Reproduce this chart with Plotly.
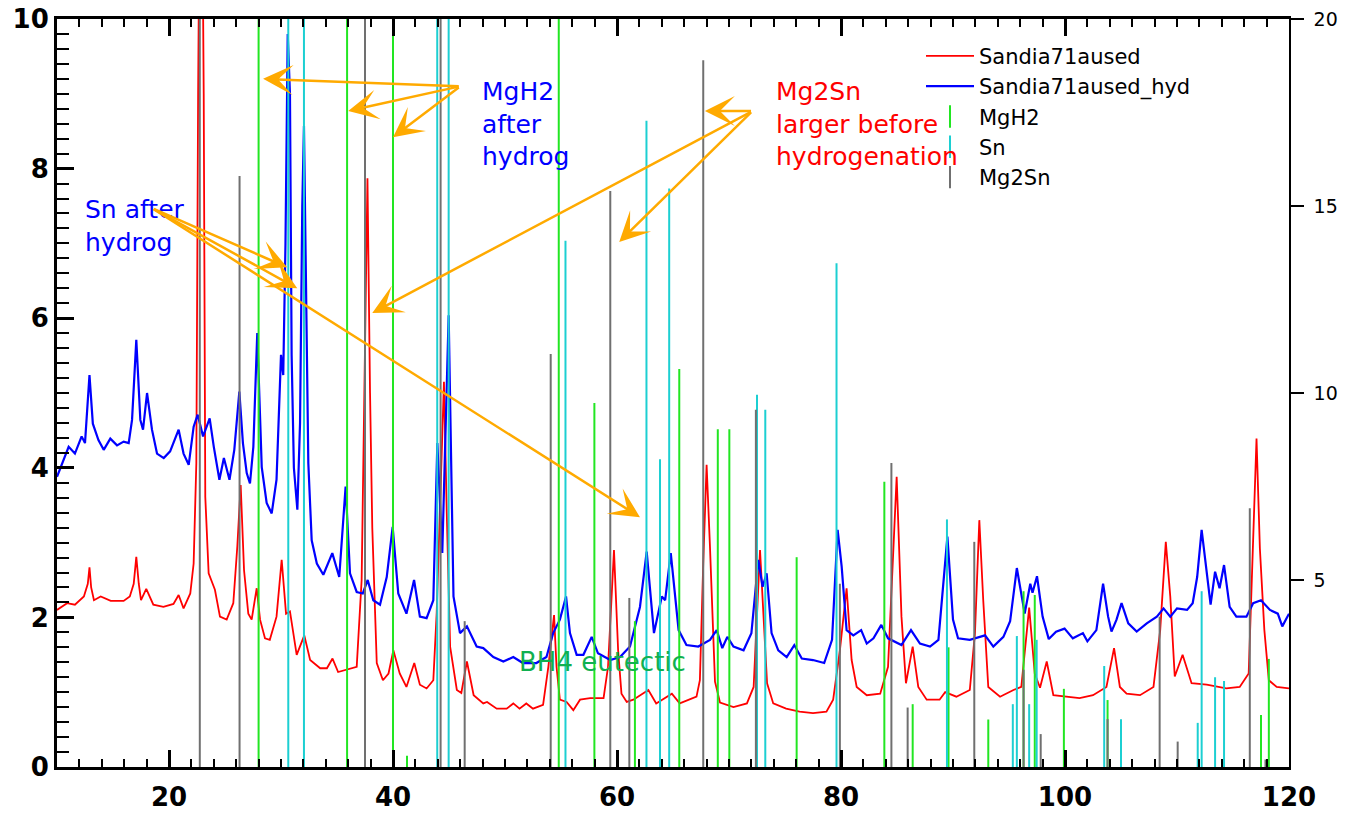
import plotly.graph_objects as go

# ---------------- data ----------------
# Sandia71aused (red) – 2theta and intensity (left axis)
red_x = [10.0, 10.9, 11.6, 12.4, 12.75, 12.9, 13.05, 13.3, 13.9, 14.8, 15.95, 16.5, 16.85, 17.08, 17.3,
         17.5, 17.97, 18.6, 19.5, 20.4, 20.86, 21.3, 21.9, 22.2, 22.44, 22.6, 22.85, 23.1, 23.24, 23.54,
         24.0, 24.1, 24.55, 25.15, 25.74, 26.1, 26.4, 26.7, 27.08, 27.38, 27.83, 28.13, 28.57, 29.0, 29.6,
         30.06, 30.45, 30.8, 31.4, 32.08, 32.6, 33.5, 34.1, 34.6, 35.1, 35.87, 36.76, 37.2, 37.45, 37.72,
         37.95, 38.15, 38.55, 39.1, 39.6, 40.03, 40.6, 41.2, 41.9, 42.4, 43.0, 43.6, 43.9, 44.2, 44.55,
         44.8, 45.1, 45.7, 46.1, 46.6, 47.2, 48.06, 48.4, 49.26, 50.15, 50.74, 51.3, 51.9, 52.5, 53.4,
         53.87, 54.38, 54.6, 54.9, 55.5, 56.1, 56.7, 57.6, 58.8, 59.2, 59.73, 60.1, 60.4, 60.87, 61.46,
         62.8, 63.5, 64.9, 65.6, 67.1, 67.4, 67.7, 68.0, 68.3, 68.75, 69.2, 70.4, 71.6, 72.2, 72.77,
         73.4, 73.95, 75.1, 76.3, 77.5, 78.7, 79.3, 79.9, 80.5, 80.95, 81.4, 82.3, 83.5, 84.2, 84.97,
         85.4, 85.8, 86.4, 86.9, 87.65, 88.8, 89.3, 90.3, 91.5, 91.96, 92.35, 92.7, 93.15, 94.2, 95.4,
         96.1, 96.8, 97.3, 97.77, 98.37, 98.96, 100.15, 101.3, 102.5, 103.7, 104.38, 104.9, 105.5, 106.7,
         107.9, 108.5, 109.0, 109.4, 109.8, 110.5, 111.3, 112.65, 114.4, 115.6, 116.4, 116.75, 117.1,
         117.4, 117.8, 118.2, 118.9, 120.0]
red_y = [2.10, 2.19, 2.17, 2.28, 2.45, 2.67, 2.40, 2.23, 2.28, 2.22, 2.22, 2.28, 2.45, 2.81, 2.45,
         2.23, 2.38, 2.17, 2.14, 2.18, 2.30, 2.12, 2.32, 2.72, 4.06, 9.0, 14.0, 9.0, 3.61, 2.59,
         2.41, 2.37, 2.01, 1.97, 2.19, 2.95, 3.77, 2.63, 2.05, 1.97, 2.39, 1.97, 1.72, 1.70, 2.01,
         2.77, 2.05, 2.08, 1.50, 1.76, 1.43, 1.32, 1.32, 1.45, 1.27, 1.30, 1.34, 2.5, 4.9, 7.87,
         5.0, 3.2, 1.39, 1.16, 1.25, 1.56, 1.25, 1.07, 1.39, 1.10, 1.05, 1.16, 2.06, 3.4, 5.15,
         3.4, 1.61, 1.03, 0.99, 1.41, 0.96, 0.85, 0.87, 0.78, 0.78, 0.85, 0.78, 0.85, 0.78, 0.83,
         1.34, 2.03, 1.34, 0.90, 0.87, 0.76, 0.90, 0.92, 0.92, 1.34, 2.90, 1.56, 0.98, 0.87, 0.90,
         1.03, 0.85, 0.98, 0.85, 0.94, 1.16, 2.72, 4.04, 2.95, 1.14, 0.86, 0.80, 0.85, 1.07, 2.90,
         1.12, 0.85, 0.78, 0.74, 0.72, 0.74, 0.90, 1.56, 2.39, 1.43, 1.07, 0.96, 0.98, 1.34, 3.88,
         2.01, 1.12, 1.61, 1.07, 0.90, 0.90, 1.00, 0.94, 1.03, 1.79, 3.30, 2.23, 1.07, 0.94, 1.03,
         1.07, 2.13, 1.25, 1.06, 1.41, 0.96, 0.94, 0.92, 0.96, 1.07, 1.59, 1.07, 0.98, 0.96,
         1.07, 1.83, 3.01, 2.28, 1.21, 1.50, 1.12, 1.10, 1.05, 1.07, 1.25, 2.72, 4.39,
         2.92, 1.83, 1.16, 1.07, 1.05]

# Sandia71aused_hyd (blue)
blue_x = [10.0, 10.45, 11.04, 11.6, 12.2, 12.5, 12.9, 13.2, 13.7, 14.17, 14.76, 15.36, 15.95, 16.4, 16.7,
          17.08, 17.44, 17.68, 18.04, 18.48, 18.93, 19.53, 20.1, 20.86, 21.3, 21.76, 22.2, 22.56, 23.04,
          23.63, 24.0, 24.5, 24.9, 25.4, 25.83, 26.28, 26.6, 26.94, 27.23, 27.53, 27.88, 28.28, 28.72,
          29.17, 29.6, 30.0, 30.2, 30.4, 30.6, 30.8, 30.95, 31.15, 31.46, 31.7, 31.9, 32.05, 32.2, 32.44,
          32.74, 33.2, 33.78, 34.58, 35.2, 35.47, 35.77, 36.16, 36.76, 37.3, 37.74, 38.24, 38.84, 39.44,
          39.97, 40.47, 41.2, 41.88, 42.4, 43.0, 43.6, 43.96, 44.4, 44.97, 45.4, 45.98, 46.6, 47.47,
          48.06, 48.96, 49.85, 50.74, 51.6, 52.8, 53.7, 54.3, 54.9, 55.45, 55.8, 56.4, 57.0, 57.74, 58.3,
          59.4, 60.27, 61.16, 62.05, 62.65, 63.3, 64.0, 64.3, 64.8, 65.5, 66.2, 67.26, 68.3, 68.9, 69.4,
          69.85, 70.4, 71.3, 72.0, 72.62, 73.0, 73.36, 73.8, 74.4, 75.15, 75.83, 76.5, 77.5, 78.5, 79.2,
          79.7, 80.06, 80.5, 81.1, 81.8, 82.3, 82.9, 83.6, 84.2, 85.4, 86.25, 87.05, 87.95, 88.7, 89.5,
          90.0, 90.45, 91.5, 92.86, 93.6, 94.5, 95.1, 95.7, 96.4, 96.9, 97.1, 97.5, 98.0, 98.55, 99.2,
          99.96, 100.7, 101.6, 102.0, 102.8, 103.4, 103.85, 104.15, 104.6, 105.05, 105.65, 106.4, 107.3,
          108.2, 108.8, 109.4, 110.0, 110.9, 111.4, 111.8, 112.2, 112.6, 113.0, 113.4, 113.8, 114.2,
          114.7, 115.3, 116.2, 116.8, 117.5, 118.3, 119.0, 119.4, 120.0]
blue_y = [3.88, 4.06, 4.28, 4.19, 4.42, 4.33, 5.24, 4.59, 4.37, 4.24, 4.39, 4.30, 4.35, 4.33, 4.64,
          5.71, 4.64, 4.51, 5.00, 4.51, 4.19, 4.13, 4.22, 4.51, 4.19, 4.04, 4.55, 4.71, 4.42,
          4.66, 4.28, 3.84, 4.13, 3.84, 4.24, 5.02, 4.33, 3.93, 3.79, 4.28, 5.80, 4.01, 3.53,
          3.39, 3.84, 5.51, 5.24, 7.0, 9.8, 9.0, 5.5, 4.0, 3.44, 4.6, 7.5, 8.57, 7.0, 4.06,
          3.03, 2.72, 2.57, 2.86, 2.54, 3.17, 3.75, 2.59, 2.34, 2.32, 2.50, 2.23, 2.17, 2.54,
          3.21, 2.32, 2.05, 2.50, 2.01, 1.99, 2.23, 4.33, 2.86, 6.04, 2.28, 1.79, 1.88, 1.61,
          1.59, 1.47, 1.41, 1.47, 1.39, 1.39, 1.47, 1.79, 1.97, 2.28, 1.79, 1.50, 1.50, 1.74, 1.52,
          1.43, 1.47, 1.61, 2.14, 2.88, 1.79, 2.28, 2.23, 2.86, 1.83, 1.63, 1.61, 1.70, 1.83, 1.59,
          1.74, 1.61, 1.56, 1.79, 2.77, 2.41, 2.59, 1.79, 1.56, 1.47, 1.63, 1.45, 1.43, 1.39, 1.70,
          3.17, 2.68, 1.83, 1.76, 1.83, 1.65, 1.72, 1.90, 1.72, 1.63, 1.83, 1.65, 1.61, 1.70, 3.08,
          1.97, 1.72, 1.70, 1.76, 1.61, 1.74, 1.95, 2.66, 2.05, 2.45, 2.33, 2.55, 2.01, 1.71, 1.81,
          1.85, 1.72, 1.79, 1.68, 1.83, 2.45, 2.01, 1.81, 1.97, 2.19, 1.92, 1.81, 1.92,
          2.01, 2.12, 2.01, 2.12, 2.10, 2.19, 2.54, 3.17, 2.63, 2.17, 2.61, 2.39, 2.70,
          2.14, 2.01, 2.01, 2.19, 2.23, 2.10, 2.05, 1.88, 2.05]

# Reference stick patterns (right axis)
mgh2_pos = [28.0, 35.9, 40.0, 41.25, 54.8, 57.98, 61.6, 65.56, 69.0, 70.03, 76.04, 83.87, 86.4, 89.6,
            93.15, 96.3, 97.3, 99.9, 103.8, 117.5, 118.2]
mgh2_int = [25, 25, 25, 0.3, 25, 9.73, 3.9, 10.64, 9.03, 9.03, 5.61, 7.63, 1.68, 3.2,
            1.27, 4.7, 4.6, 2.09, 1.79, 1.39, 2.89]

sn_pos = [30.65, 32.05, 43.95, 44.97, 55.4, 62.63, 63.84, 64.66, 72.5, 73.24, 79.6, 89.46, 95.34, 95.7,
          96.8, 97.47, 103.5, 105.0, 111.85, 112.2, 113.4, 114.2]
sn_int = [25, 25, 25, 25, 14.07, 17.28, 8.23, 15.47, 9.95, 9.55, 13.47, 6.62, 1.68, 3.5,
          1.68, 3.40, 2.70, 1.28, 1.18, 4.7, 2.40, 2.30]

mg2sn_pos = [22.75, 26.3, 37.5, 44.25, 46.4, 54.08, 59.4, 61.1, 67.7, 72.4, 79.9, 84.5, 85.95, 91.9,
             96.3, 97.83, 103.8, 108.45, 110.06, 116.5, 117.9]
mg2sn_int = [25, 15.8, 25, 25, 3.9, 11.04, 15.4, 4.52, 18.9, 9.55, 4.9, 8.13, 1.59, 6.02,
             2.6, 0.88, 1.28, 4.02, 0.68, 6.92, 0.2]

y2_tickvals = [5, 10, 15, 20]

# ---------------- styling ----------------
RED, BLUE = '#ff0000', '#0000ff'
GREEN, CYAN, GRAY = '#22e622', '#1ccfd2', '#707070'
ORANGE = '#ffaa00'
FONT = 'DejaVu Sans'


def sticks(pos, inten):
    xs, ys = [], []
    for p, h in zip(pos, inten):
        xs += [p, p, None]
        ys += [0, h, None]
    return xs, ys


fig = go.Figure()
fig.add_trace(go.Scatter(x=red_x, y=red_y, mode='lines', name='Sandia71aused',
                         line=dict(color=RED, width=1.8)))
fig.add_trace(go.Scatter(x=blue_x, y=blue_y, mode='lines', name='Sandia71aused_hyd',
                         line=dict(color=BLUE, width=2.2)))

for name, pos, inten, col in [('MgH2', mgh2_pos, mgh2_int, GREEN),
                              ('Sn', sn_pos, sn_int, CYAN),
                              ('Mg2Sn', mg2sn_pos, mg2sn_int, GRAY)]:
    sx, sy = sticks(pos, inten)
    fig.add_trace(go.Scatter(x=sx, y=sy, mode='lines', yaxis='y2', showlegend=False,
                             line=dict(color=col, width=2), name=name))
    fig.add_trace(go.Scatter(x=[None], y=[None], mode='markers', yaxis='y2', name=name,
                             marker=dict(symbol='line-ns', size=16,
                                         line=dict(width=2, color=col), color=col)))

# ---------------- annotations ----------------
anns = []
text_specs = [
    ('Sn after<br>hydrog', 12.3, 7.23, BLUE, 25),
    ('MgH2<br>after<br>hydrog', 47.75, 8.59, BLUE, 25),
    ('Mg2Sn<br>larger before<br>hydrogenation', 74.0, 8.59, RED, 25),
    ('BH4 eutectic', 51.1, 1.40, '#10b050', 26),
]
for txt, x, y, col, sz in text_specs:
    anns.append(dict(text=txt, x=x, y=y, xref='x', yref='y', xanchor='left', yanchor='middle',
                     align='left', showarrow=False, font=dict(family=FONT, size=sz, color=col)))

arrows = [
    # (tail x, tail y, head x, head y)
    (46.0, 9.10, 28.4, 9.20),
    (46.0, 9.10, 36.0, 8.77),
    (46.0, 9.10, 40.0, 8.42),
    (72.1, 8.77, 67.85, 8.77),
    (72.1, 8.77, 38.15, 6.07),
    (72.1, 8.77, 60.2, 7.02),
    (18.5, 7.47, 30.55, 6.68),
    (18.5, 7.47, 31.45, 6.40),
    (18.5, 7.47, 62.05, 3.34),
]
for tx, ty, hx, hy in arrows:
    anns.append(dict(text='', x=hx, y=hy, xref='x', yref='y', ax=tx, ay=ty, axref='x', ayref='y',
                     showarrow=True, arrowhead=3, arrowsize=2.0, arrowwidth=2.5, arrowcolor=ORANGE,
                     standoff=0))

fig.update_layout(
    width=1350, height=813,
    margin=dict(l=57, r=61, t=19, b=46, autoexpand=False),
    paper_bgcolor='white', plot_bgcolor='white',
    annotations=anns,
    legend=dict(x=0.7013, y=0.9776, xanchor='left', yanchor='top', bgcolor='rgba(0,0,0,0)',
                font=dict(family=FONT, size=21, color='black'), itemwidth=48, tracegroupgap=0),
    xaxis=dict(range=[10, 120], tick0=0, dtick=20, ticks='inside', ticklen=17, tickwidth=2.5,
               tickcolor='black', showline=True, linewidth=3, linecolor='black', mirror='ticks',
               showgrid=False, zeroline=False, automargin=False, ticklabelstandoff=5,
               ticklabeloverflow='allow',
               minor=dict(dtick=2, tick0=0, ticks='inside', ticklen=8, tickwidth=2, tickcolor='black',
                          showgrid=False),
               tickfont=dict(family=FONT, size=26, color='black', weight='bold')),
    yaxis=dict(range=[0, 10], tick0=0, dtick=2, ticks='inside', ticklen=17, tickwidth=2.5,
               tickcolor='black', showline=True, linewidth=3, linecolor='black', mirror=False,
               showgrid=False, zeroline=False, ticklabelstandoff=0, automargin=False,
               ticklabeloverflow='allow',
               minor=dict(dtick=0.2, tick0=0, ticks='inside', ticklen=12, tickwidth=2, tickcolor='black',
                          showgrid=False),
               tickfont=dict(family=FONT, size=26, color='black', weight='bold')),
    yaxis2=dict(overlaying='y', side='right', range=[0, 20], tickvals=y2_tickvals, ticks='outside',
                ticklen=13, tickwidth=1.5, tickcolor='black', showline=True, linewidth=1.5,
                linecolor='black', showgrid=False, zeroline=False, automargin=False,
                ticklabelstandoff=6, ticklabeloverflow='allow',
                tickfont=dict(family=FONT, size=19, color='black')),
)

fig.write_html('out.html', config={'displayModeBar': False},
               post_script="document.body.style.margin='0px';")
